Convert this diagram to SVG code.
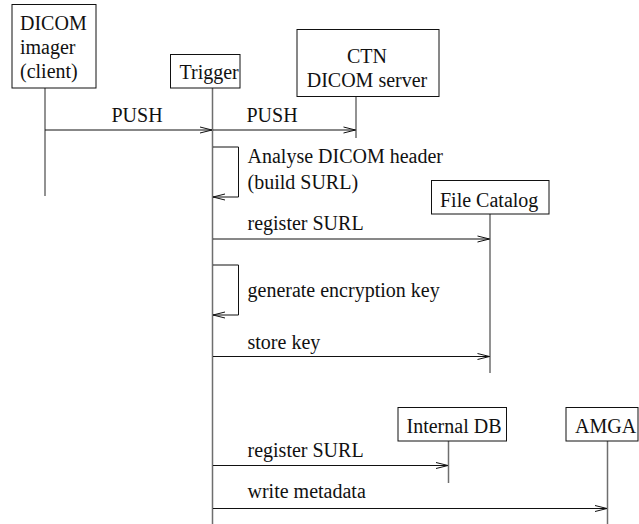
<svg xmlns="http://www.w3.org/2000/svg" width="639" height="524" viewBox="0 0 639 524">
  <style>
    text { font-family: "Liberation Serif", "Times New Roman", serif; font-size: 20px; fill: #111; }
    .box { fill: #fff; stroke: #111; stroke-width: 1; }
    .life { stroke: #6e6e6e; stroke-width: 1.5; fill: none; }
    .msg { stroke: #111; stroke-width: 1; fill: none; }
    .head { stroke: #111; stroke-width: 1; fill: none; }
    .mid { text-anchor: middle; }
  </style>

  <rect width="639" height="524" fill="#fff"/>

  <!-- lifelines -->
  <g id="lifelines">
    <line class="life" x1="45" y1="88" x2="45" y2="196"/>
    <line class="life" x1="212.5" y1="88" x2="212.5" y2="524"/>
    <line class="life" x1="356" y1="97" x2="356" y2="138"/>
    <line class="life" x1="490" y1="214" x2="490" y2="373"/>
    <line class="life" x1="448.5" y1="441" x2="448.5" y2="483"/>
    <line class="life" x1="607.5" y1="441" x2="607.5" y2="524"/>
  </g>

  <!-- participants -->
  <g id="dicom-imager">
    <rect class="box" x="12" y="4.5" width="84" height="83.5"/>
    <text x="20" y="30">DICOM</text>
    <text x="20" y="54">imager</text>
    <text x="20" y="78">(client)</text>
  </g>
  <g id="trigger">
    <rect class="box" x="170.5" y="54.5" width="69.5" height="33.5"/>
    <text x="179.5" y="79">Trigger</text>
  </g>
  <g id="ctn-server">
    <rect class="box" x="297" y="29.5" width="142" height="67"/>
    <text class="mid" x="367" y="63">CTN</text>
    <text class="mid" x="367" y="87">DICOM server</text>
  </g>
  <g id="file-catalog">
    <rect class="box" x="431.5" y="180.5" width="117.5" height="33.5"/>
    <text x="440" y="207">File Catalog</text>
  </g>
  <g id="internal-db">
    <rect class="box" x="398" y="407.5" width="108.5" height="33.5"/>
    <text x="406.5" y="432.5">Internal DB</text>
  </g>
  <g id="amga">
    <rect class="box" x="566" y="407.5" width="72" height="33.5"/>
    <text x="575" y="432.5">AMGA</text>
  </g>

  <!-- messages -->
  <g id="connectors">
    <!-- PUSH imager -> trigger -->
    <line class="msg" x1="45" y1="130" x2="212" y2="130"/>
    <path class="head" d="M200,127 L212,130 L200,133"/>
    <!-- PUSH trigger -> CTN -->
    <line class="msg" x1="213" y1="130" x2="355.5" y2="130"/>
    <path class="head" d="M343.5,127 L355.5,130 L343.5,133"/>
    <!-- self: analyse header -->
    <path class="msg" d="M213,147 H238.5 V197 H213"/>
    <path class="head" d="M225,194 L213,197 L225,200"/>
    <!-- register SURL -> File Catalog -->
    <line class="msg" x1="213" y1="239" x2="489.5" y2="239"/>
    <path class="head" d="M477.5,236 L489.5,239 L477.5,242"/>
    <!-- self: generate key -->
    <path class="msg" d="M213,265 H238.5 V315 H213"/>
    <path class="head" d="M225,312 L213,315 L225,318"/>
    <!-- store key -> File Catalog -->
    <line class="msg" x1="213" y1="356.5" x2="489.5" y2="356.5"/>
    <path class="head" d="M477.5,353.5 L489.5,356.5 L477.5,359.5"/>
    <!-- register SURL -> Internal DB -->
    <line class="msg" x1="213" y1="465.5" x2="448" y2="465.5"/>
    <path class="head" d="M436,462.5 L448,465.5 L436,468.5"/>
    <!-- write metadata -> AMGA -->
    <line class="msg" x1="213" y1="508.5" x2="607" y2="508.5"/>
    <path class="head" d="M595,505.5 L607,508.5 L595,511.5"/>
  </g>

  <!-- message labels -->
  <g id="labels">
    <text x="111.5" y="122">PUSH</text>
    <text x="246.5" y="122">PUSH</text>
    <text x="247.5" y="163">Analyse DICOM header</text>
    <text x="247.5" y="189">(build SURL)</text>
    <text x="247.5" y="230">register SURL</text>
    <text x="247.5" y="297">generate encryption key</text>
    <text x="247.5" y="349">store key</text>
    <text x="247.5" y="457">register SURL</text>
    <text x="247.5" y="498">write metadata</text>
  </g>
</svg>
